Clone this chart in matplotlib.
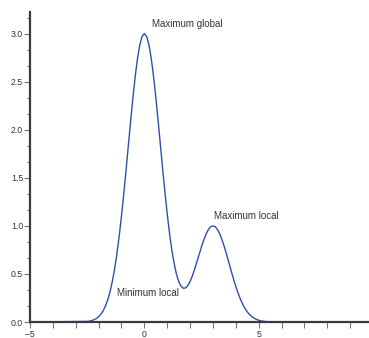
import numpy as np
import matplotlib
matplotlib.use("Agg")
import matplotlib.pyplot as plt
from matplotlib.ticker import MultipleLocator

# Curve samples (x grid -2.5..5.5 step 0.1)
curve_x = np.round(np.arange(-2.5, 5.55, 0.1), 1)
curve_y = [
    0.006, 0.009, 0.015, 0.024, 0.036, 0.055, 0.081, 0.117, 0.167, 0.232,
    0.316, 0.423, 0.554, 0.711, 0.895, 1.104, 1.335, 1.582, 1.838, 2.093,
    2.336, 2.556, 2.742, 2.882, 2.970, 3.000, 2.970, 2.883, 2.743, 2.557,
    2.338, 2.096, 1.843, 1.590, 1.347, 1.122, 0.922, 0.750, 0.610, 0.500,
    0.421, 0.373, 0.351, 0.354, 0.379, 0.423, 0.481, 0.551, 0.628, 0.707,
    0.785, 0.856, 0.916, 0.962, 0.991, 1.000, 0.990, 0.961, 0.914, 0.852,
    0.779, 0.698, 0.613, 0.527, 0.445, 0.368, 0.298, 0.237, 0.185, 0.141,
    0.105, 0.077, 0.056, 0.039, 0.027, 0.018, 0.012, 0.008, 0.005, 0.003,
    0.002,
]
tail_left_x = [-5.0]
tail_right_x = [9.8]
tail_y = [0.0]

labels = ["Maximum global", "Maximum local", "Minimum local"]
label_x = [0.35, 3.05, -1.2]
label_y = [3.1, 1.1, 0.3]

x_all = list(tail_left_x) + list(curve_x) + list(tail_right_x)
y_all = list(tail_y) + list(curve_y) + list(tail_y)

fam = ["Liberation Sans", "DejaVu Sans"]

fig = plt.figure(figsize=(3.69, 3.38), dpi=100)
ax = fig.add_axes([30 / 369, 16 / 338, 1 - 30 / 369, (322 - 12) / 338])
ax.plot(x_all, y_all, color="#2f4fae", lw=1.0, zorder=2, clip_on=False)

ax.set_xlim(-5, 9.82)
ax.set_ylim(0, 3.225)

for s in ["top", "right"]:
    ax.spines[s].set_visible(False)
for s in ["left", "bottom"]:
    ax.spines[s].set_color("#3a3a44")
    ax.spines[s].set_linewidth(1.6)
    ax.spines[s].set_zorder(3)

ax.xaxis.set_major_locator(MultipleLocator(5))
ax.xaxis.set_minor_locator(MultipleLocator(1))
ax.yaxis.set_major_locator(MultipleLocator(0.5))
ax.yaxis.set_minor_locator(MultipleLocator(0.5 / 3))

ax.tick_params(axis="both", which="both", direction="out", color="#777777", width=0.8)
ax.tick_params(axis="x", which="both", length=4, pad=1.5)
ax.tick_params(axis="y", which="major", length=4, pad=1)
ax.tick_params(axis="y", which="minor", length=2.5)
ax.xaxis.set_major_formatter(plt.FuncFormatter(lambda v, p: f"{v:g}".replace("-", "\u2013")))
ax.yaxis.set_major_formatter(plt.FuncFormatter(lambda v, p: f"{v:.1f}"))
for lab in ax.get_xticklabels() + ax.get_yticklabels():
    lab.set_family(fam)
    lab.set_fontsize(6.3)
    lab.set_color("#333333")

for t, lx, ly in zip(labels, label_x, label_y):
    ax.text(lx, ly, t, family=fam, fontsize=7, color="#333333",
            ha="left", va="center")

fig.savefig("out.png", dpi=100)
